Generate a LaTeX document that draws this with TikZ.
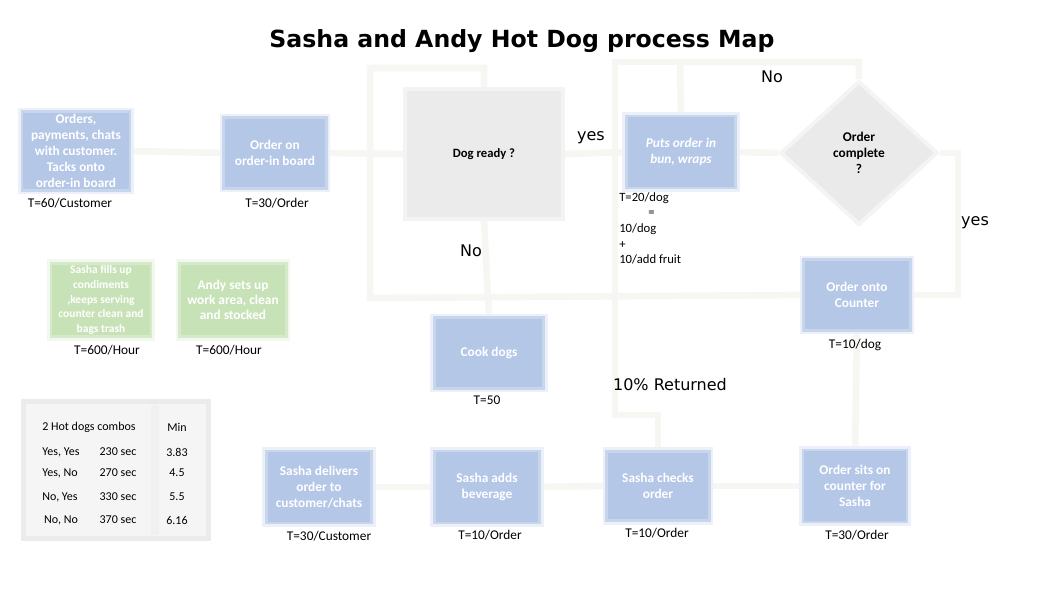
\documentclass[tikz,border=0pt]{standalone}
\usepackage{fontspec}
\setmainfont{Carlito}
\newfontfamily\dvsans{DejaVu Sans}
\usetikzlibrary{shapes.geometric,backgrounds}
\definecolor{boxblue}{RGB}{180,199,231}
\definecolor{boxgreen}{RGB}{200,226,184}
\definecolor{doggray}{RGB}{235,235,235}
\definecolor{diagray}{RGB}{234,234,234}
\definecolor{linec}{RGB}{246,247,242}
\definecolor{tabgray}{RGB}{245,245,245}
\tikzset{
  x=0.75pt, y=-0.75pt,
  bbox/.style={rectangle, fill=boxblue, draw=boxblue!75, line width=2pt,
    preaction={draw=boxblue!25, line width=6pt}, text=white, align=center,
    font=\fontsize{10}{12}\selectfont\bfseries, inner sep=2pt},
  gbox/.style={rectangle, fill=boxgreen, draw=boxgreen!75, line width=2pt,
    preaction={draw=boxgreen!25, line width=6pt}, text=white, align=center,
    inner sep=2pt},
  tlabel/.style={font=\fontsize{10}{12}\selectfont, inner sep=0pt},
  tabtxt/.style={font=\fontsize{9}{11}\selectfont, inner sep=0pt},
  biglabel/.style={font=\dvsans\fontsize{12}{14}\selectfont, inner sep=0pt},
  conn/.style={draw=linec, line width=5pt},
}
\begin{document}
\begin{tikzpicture}
\useasboundingbox (0,0) rectangle (1062,598);
% title
\node[font=\dvsans\bfseries\fontsize{17.7}{20}\selectfont, inner sep=0pt] (title) at (522,41) {Sasha and Andy Hot Dog process Map};

% top row
\node[bbox, minimum width=81pt, minimum height=58pt] (orders) at (76,151) {Orders,\\payments, chats\\with customer.\\Tacks onto\\order-in board};
\node[tlabel] (t1) at (70,203) {T=60/Customer};
\node[bbox, minimum width=77pt, minimum height=53pt] (board) at (275,153) {Order on\\order-in board};
\node[tlabel] (t2) at (277,203) {T=30/Order};
\node[rectangle, fill=doggray, draw=doggray!60, line width=3pt, minimum width=118pt, minimum height=97pt,
  font=\fontsize{9.5}{11}\selectfont\bfseries] (dogready) at (484,154) {Dog ready ?};
\node[bbox, minimum width=82pt, minimum height=54pt, font=\fontsize{10}{12}\selectfont\bfseries\itshape] (puts) at (681,152) {Puts order in\\bun, wraps};
\node[diamond, aspect=1.1, fill=diagray, draw=diagray!50, line width=3pt, minimum width=118pt, minimum height=108pt, inner sep=0pt,
  align=center, font=\fontsize{10}{12}\selectfont\bfseries] (complete) at (859,153) {Order\\complete\\?};
\node[align=left, anchor=north west, font=\fontsize{9.5}{11.8}\selectfont, inner sep=0pt] (t20) at (619,192)
  {T=20/dog\\\hspace*{2.3em}=\\10/dog\\+\\10/add fruit};
\node[bbox, minimum width=80pt, minimum height=53pt] (counter) at (857,295) {Order onto\\Counter};
\node[tlabel] (t10dog) at (855,345) {T=10/dog};
\node[bbox, minimum width=82pt, minimum height=53pt] (cook) at (489,353) {Cook dogs};
\node[tlabel] (t50) at (487,400) {T=50};

% labels
\node[biglabel] (lno1) at (772,77) {No};
\node[biglabel] (lyes1) at (591,138) {yes};
\node[biglabel] (lyes2) at (975,223) {yes};
\node[biglabel] (lno2) at (471,251) {No};
\node[biglabel] (lret) at (670,385) {10\% Returned};

% green boxes
\node[gbox, minimum width=75pt, minimum height=55pt, font=\fontsize{8.6}{10.9}\selectfont\bfseries] (fills) at (101,300)
  {Sasha fills up\\condiments\\,keeps serving\\counter clean and\\bags trash};
\node[tlabel] (t600a) at (107,350) {T=600/Hour};
\node[gbox, minimum width=80pt, minimum height=55pt, font=\fontsize{10}{11.3}\selectfont\bfseries] (andy) at (233,300)
  {Andy sets up\\work area, clean\\and stocked};
\node[tlabel] (t600b) at (229,350) {T=600/Hour};

% bottom row
\node[bbox, minimum width=79pt, minimum height=54pt] (delivers) at (319,487) {Sasha delivers\\order to\\customer/chats};
\node[tlabel] (t30c) at (329,536) {T=30/Customer};
\node[bbox, minimum width=79pt, minimum height=54pt] (adds) at (487,487) {Sasha adds\\beverage};
\node[tlabel] (t10a) at (490,535) {T=10/Order};
\node[bbox, minimum width=77pt, minimum height=52pt] (checks) at (658,486) {Sasha checks\\order};
\node[tlabel] (t10b) at (657,533) {T=10/Order};
\node[bbox, minimum width=78pt, minimum height=54pt] (sits) at (855,486) {Order sits on\\counter for\\Sasha};
\node[tlabel] (t30o) at (857,535) {T=30/Order};

% table
\node[rectangle, fill=tabgray, draw=black!8, line width=4pt, minimum width=139pt, minimum height=103pt, inner sep=0pt] (table) at (116,470) {};
\node[rectangle, fill=black!6, minimum width=6pt, minimum height=98pt, inner sep=0pt] (tabsep) at (155,470) {};
\node[tabtxt] (h1) at (89,427) {2 Hot dogs combos};
\node[tabtxt] (h2) at (177,427) {Min};
\node[tabtxt] (r1a) at (61,452) {Yes, Yes};
\node[tabtxt] (r1b) at (118,452) {230 sec};
\node[tabtxt] (r1c) at (177,452) {3.83};
\node[tabtxt] (r2a) at (60,473) {Yes, No};
\node[tabtxt] (r2b) at (118,473) {270 sec};
\node[tabtxt] (r2c) at (177,473) {4.5};
\node[tabtxt] (r3a) at (60,497) {No, Yes};
\node[tabtxt] (r3b) at (118,497) {330 sec};
\node[tabtxt] (r3c) at (177,497) {5.5};
\node[tabtxt] (r4a) at (61,520) {No, No};
\node[tabtxt] (r4b) at (118,520) {370 sec};
\node[tabtxt] (r4c) at (177,520) {6.16};

% connectors
\coordinate (cr) at (958,153);
\coordinate (ntop) at (680,62);
\coordinate (rt) at (615,62);
\coordinate (rb) at (615,415);
\coordinate (lb) at (370,298);
\coordinate (lt) at (370,68);
\begin{pgfonlayer}{background}
\draw[conn] (orders.east) -- (board.west);
\draw[conn] (board.east) -- (dogready.west);
\draw[conn] (dogready.east) -- (puts.west);
\draw[conn] (puts.east) -- (complete.west);
\draw[conn] (complete.east) -- (cr) |- (counter.east);
\draw[conn] (complete.north) |- (ntop) -- (puts.north);
\draw[conn] (checks.north) |- (rb) -- (rt) -- (ntop);
\draw[conn] (dogready.south) -- (cook.north);
\draw[conn] (counter.west) -- (lb) -- (lt) -| (dogready.north);
\draw[conn] (counter.south) -- (sits.north);
\draw[conn] (sits.west) -- (checks.east);
\draw[conn] (checks.west) -- (adds.east);
\draw[conn] (adds.west) -- (delivers.east);
\end{pgfonlayer}
\end{tikzpicture}
\end{document}
